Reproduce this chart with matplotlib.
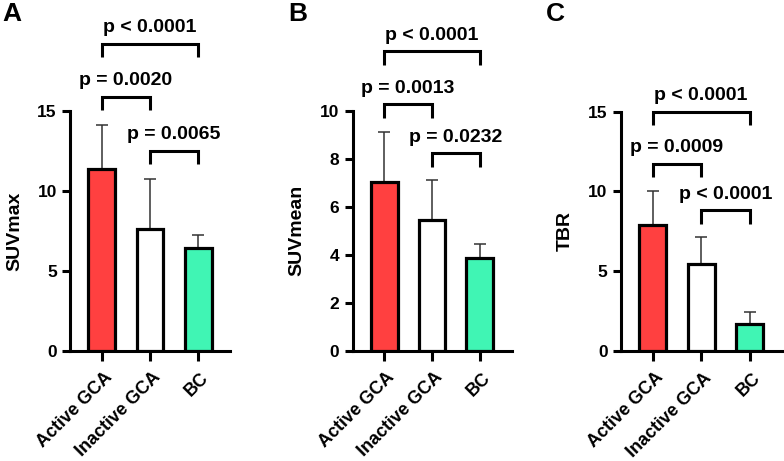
import matplotlib
matplotlib.use("Agg")
import matplotlib.pyplot as plt
from matplotlib.transforms import ScaledTranslation

plt.rcParams['font.family'] = ['Liberation Sans', 'DejaVu Sans']
plt.rcParams['font.weight'] = 'bold'

categories = ["Active GCA", "Inactive GCA", "BC"]
colors = ["#FF4040", "#FFFFFF", "#40F5B4"]

suvmax_mean = [11.4, 7.6, 6.42]
suvmax_sd = [2.75, 3.15, 0.85]
suvmean_mean = [7.04, 5.47, 3.85]
suvmean_sd = [2.1, 1.67, 0.61]
tbr_mean = [7.9, 5.46, 1.71]
tbr_sd = [2.1, 1.69, 0.73]

ylabels = ["SUVmax", "SUVmean", "TBR"]
panel_letters = ["A", "B", "C"]
ylims = [15, 10, 15]
yticks = [[0, 5, 10, 15], [0, 2, 4, 6, 8, 10], [0, 5, 10, 15]]

# comparisons: (i, j, label)
comparisons = [
    [(0, 1, "p = 0.0020"), (1, 2, "p = 0.0065"), (0, 2, "p < 0.0001")],
    [(0, 1, "p = 0.0013"), (1, 2, "p = 0.0232"), (0, 2, "p < 0.0001")],
    [(0, 1, "p = 0.0009"), (1, 2, "p < 0.0001"), (0, 2, "p < 0.0001")],
]
# bracket top heights (data units) for each comparison
bracket_tops = [[15.9, 12.5, 19.2], [10.29, 8.24, 12.5], [11.73, 8.81, 15.0]]

means = [suvmax_mean, suvmean_mean, tbr_mean]
sds = [suvmax_sd, suvmean_sd, tbr_sd]

W, H = 784, 461
fig = plt.figure(figsize=(W / 100, H / 100), dpi=100)

# axes pixel boxes: left, bottom(y from top), right, top
boxes = [(70, 350.7, 230, 111), (352.5, 350.7, 511.5, 111), (620.8, 350.9, 781.5, 111.5)]
letter_x = [2, 288, 546]

shift = ScaledTranslation(2 / 100, -3 / 100, fig.dpi_scale_trans)

for k in range(3):
    l, b, r, t = boxes[k]
    ax = fig.add_axes([l / W, 1 - b / H, (r - l) / W, (b - t) / H])
    x = list(range(len(categories)))
    ppu = (b - t) / ylims[k]  # pixels per unit
    ax.bar(x, means[k], width=0.56, color=colors, edgecolor="black",
           linewidth=2.3, zorder=3)
    ax.errorbar(x, means[k], yerr=[[0] * 3, sds[k]], fmt="none",
                ecolor="#333333", elinewidth=1.1, capsize=4, capthick=1.1, zorder=2)
    ax.set_xlim(-0.66, 2.66)
    ax.set_ylim(0, ylims[k])
    ax.set_yticks(yticks[k])
    ax.set_yticklabels([str(v) for v in yticks[k]], fontsize=12.5, fontweight="bold")
    ax.set_xticks(x)
    for s in ["top", "right"]:
        ax.spines[s].set_visible(False)
    for s in ["left", "bottom"]:
        ax.spines[s].set_linewidth(2.2)
    ax.tick_params(axis="both", width=2.2, length=6, pad=3.5)
    ax.tick_params(axis="x", length=7, pad=4)
    ax.set_xticklabels(categories, rotation=45, ha="right", rotation_mode="anchor",
                       fontsize=13, fontweight="bold")
    for lab in ax.get_xticklabels():
        lab.set_transform(lab.get_transform() + shift)
    ax.set_ylabel(ylabels[k], fontsize=14, fontweight="bold")
    ax.yaxis.set_label_coords(-0.294, 0.5)
    ax.patch.set_alpha(0)

    drop = 13.5 / ppu
    gap = 11.5 / ppu
    for (i, j, lab), top in zip(comparisons[k], bracket_tops[k]):
        ax.plot([i, i, j, j], [top - drop, top, top, top - drop], color="black",
                linewidth=2.2, clip_on=False, solid_capstyle="butt",
                solid_joinstyle="miter")
        ax.text((i + j) / 2, top + gap, lab, ha="center", va="baseline",
                fontsize=14, fontweight="bold", clip_on=False)

    fig.text(letter_x[k] / W, 1 - 2 / H, panel_letters[k], fontsize=19,
             fontweight="bold", ha="left", va="top")

fig.savefig("out.png", dpi=100)
